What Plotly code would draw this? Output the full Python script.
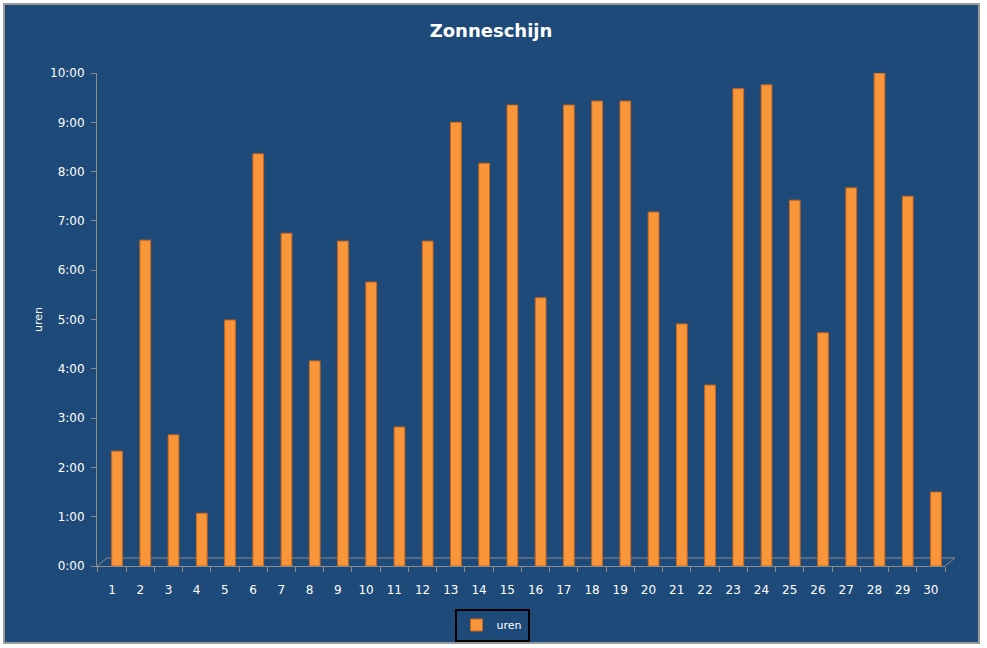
import plotly.graph_objects as go

days = list(range(1, 31))
hours = [2.33, 6.61, 2.66, 1.07, 4.99, 8.36, 6.75, 4.16, 6.59, 5.76,
         2.82, 6.59, 9.0, 8.17, 9.35, 5.44, 9.35, 9.43, 9.43, 7.18,
         4.91, 3.67, 9.68, 9.76, 7.42, 4.73, 7.67, 10.0, 7.5, 1.5]
ytick_vals = list(range(0, 11))
ytick_text = [f"{h}:00" for h in ytick_vals]

W, H = 987, 648
L, R, T, B = 97, 42, 73, 82
pw, ph = W - L - R, H - T - B

def px(x):
    return (x - L) / pw

def py(y):
    return (H - B - y) / ph

navy = "#1E4A7A"
font = "DejaVu Sans"
bar_w = 0.38
shift = 0.18

fig = go.Figure()
fig.add_trace(go.Bar(
    x=days, y=hours, name="uren", width=bar_w, offset=-bar_w / 2 + shift,
    marker=dict(color="#F9963A", line=dict(color="#C9661A", width=1)),
))

shapes = [
    dict(type="rect", xref="paper", yref="paper", x0=px(4), x1=px(979), y0=py(643), y1=py(4),
         fillcolor=navy, line=dict(color="#9a9a9a", width=2), layer="below"),
    # 3D floor
    dict(type="line", xref="paper", yref="paper", x0=px(97), y0=py(566), x1=px(107), y1=py(558),
         line=dict(color="#8c8c8c", width=1), layer="below"),
    dict(type="line", xref="paper", yref="paper", x0=px(107), y0=py(558), x1=px(955), y1=py(558),
         line=dict(color="#8c8c8c", width=1), layer="below"),
    dict(type="line", xref="paper", yref="paper", x0=px(955), y0=py(558), x1=px(945), y1=py(566),
         line=dict(color="#8c8c8c", width=1), layer="below"),
]

fig.update_layout(
    width=W, height=H,
    margin=dict(l=L, r=R, t=T, b=B, autoexpand=False),
    paper_bgcolor="white",
    plot_bgcolor="rgba(0,0,0,0)",
    shapes=shapes,
    title=dict(text="<b>Zonneschijn</b>", x=px(491), xref="paper", xanchor="center", y=1 - 31 / H, yanchor="middle",
               font=dict(family=font, size=18, color="white")),
    font=dict(family=font, size=12, color="white"),
    showlegend=True,
    legend=dict(orientation="h", x=px(492), xanchor="center", y=py(625), yanchor="middle",
                bgcolor=navy, bordercolor="black", borderwidth=2, itemwidth=30,
                font=dict(family=font, size=11, color="white")),
    annotations=[dict(text="uren", textangle=-90, xref="paper", yref="paper", x=px(38), y=py(320),
                      xanchor="center", yanchor="middle", showarrow=False,
                      font=dict(family=font, size=11, color="white"))],
    xaxis=dict(
        range=[0.47, 30.5], tickmode="array", tickvals=days, ticktext=[str(d) for d in days],
        showgrid=False, zeroline=False, showline=True, linecolor="#8c8c8c", linewidth=1,
        ticks="", ticklabelstandoff=13, automargin=False,
        minor=dict(tickvals=[d + 0.5 for d in range(0, 31)], ticks="outside", ticklen=5,
                   tickcolor="#8c8c8c", showgrid=False),
        tickfont=dict(family=font, size=12, color="white"),
    ),
    yaxis=dict(
        range=[0, 10], tickmode="array", tickvals=ytick_vals, ticktext=ytick_text,
        showgrid=False, zeroline=False, showline=True, linecolor="#8c8c8c", linewidth=1,
        ticks="outside", ticklen=5, tickcolor="#8c8c8c", automargin=False, ticklabelstandoff=4,
        tickfont=dict(family=font, size=12, color="white"),
    ),
)

fig.write_html("out.html")
